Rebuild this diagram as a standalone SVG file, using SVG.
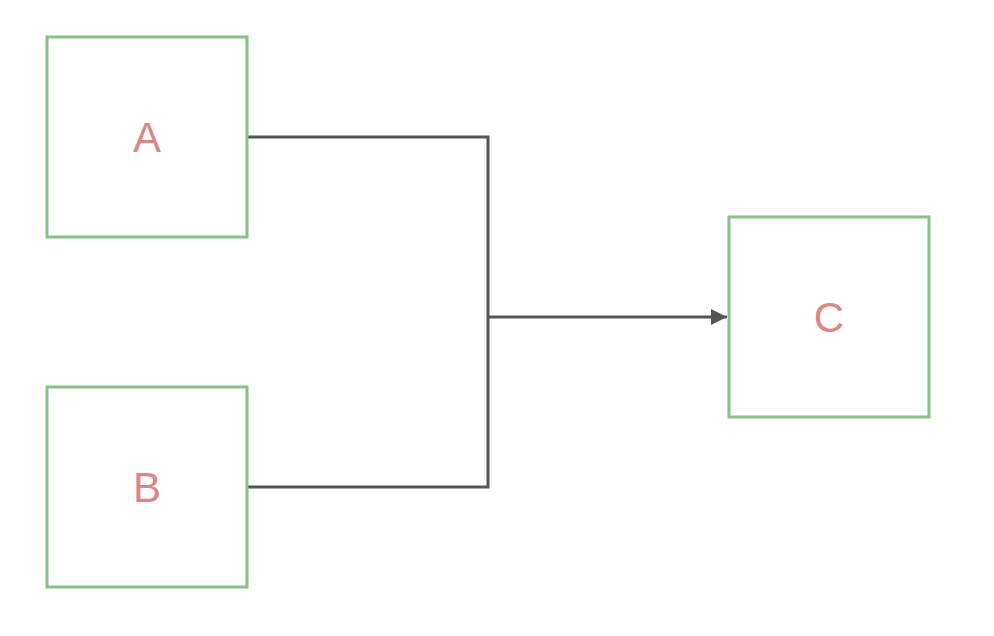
<svg xmlns="http://www.w3.org/2000/svg" width="994" height="636" viewBox="0 0 994 636">
<defs>
<style>
.box{fill:#fff;stroke:#88c189;stroke-width:3}
.lbl{font-family:"Liberation Sans",Arial,sans-serif;font-size:42px;fill:#d98886;text-anchor:middle}
.conn{fill:none;stroke:#555;stroke-width:3}
</style>
<marker id="arr" markerUnits="userSpaceOnUse" markerWidth="20" markerHeight="20" refX="18" refY="8" orient="auto" viewBox="0 0 20 16">
<path d="M2,0 L18,8 L2,16 Z" fill="#555"/>
</marker>
</defs>
<rect width="994" height="636" fill="#fff"/>
<g id="connectors">
<path class="conn" d="M247,137 H488 V487 H247"/>
<path class="conn" d="M488,317 H727" marker-end="url(#arr)"/>
</g>
<g id="A"><rect class="box" x="47" y="37" width="200" height="200"/><text class="lbl" x="147" y="152">A</text></g>
<g id="B"><rect class="box" x="47" y="387" width="200" height="200"/><text class="lbl" x="147" y="502">B</text></g>
<g id="C"><rect class="box" x="729" y="217" width="200" height="200"/><text class="lbl" x="829" y="332">C</text></g>
</svg>
